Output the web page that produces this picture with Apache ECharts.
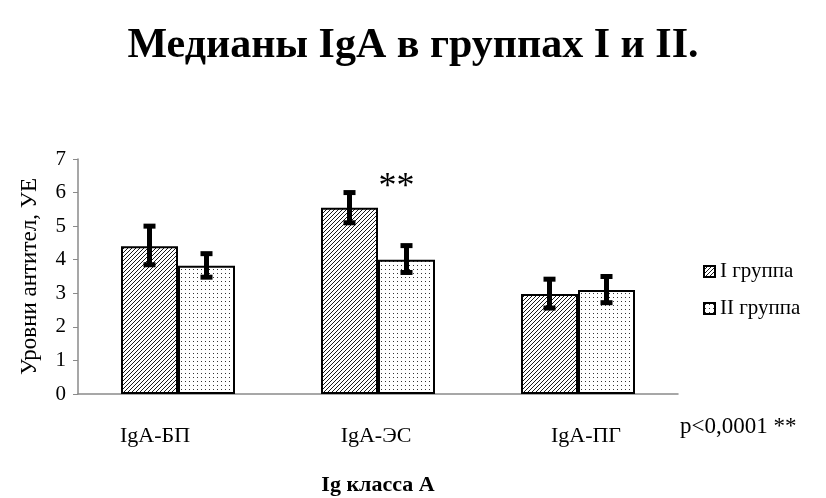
<!DOCTYPE html>
<html>
<head>
<meta charset="utf-8">
<script src="https://cdn.jsdelivr.net/npm/echarts@6/dist/echarts.min.js"></script>
<style>
  html, body { margin: 0; padding: 0; background: #fff; }
  #chart { width: 826px; height: 498px; }
</style>
</head>
<body>
<div id="chart"></div>
<script>
// data
const categories = ['IgA-БП', 'IgA-ЭС', 'IgA-ПГ'];
const seriesNames = ['I группа', 'II группа'];
const group1 = [4.4, 5.55, 2.98];
const group2 = [3.82, 4.0, 3.1];
const group1Low = [3.85, 5.1, 2.56];
const group1High = [5.0, 6.0, 3.42];
const group2Low = [3.48, 3.62, 2.72];
const group2High = [4.18, 4.42, 3.5];
const yTicks = [0, 1, 2, 3, 4, 5, 6, 7];

const FONT = '"Liberation Serif", "Times New Roman", serif';

// fill patterns
function hatchPattern() {
  const c = document.createElement('canvas');
  c.width = 4; c.height = 4;
  const ctx = c.getContext('2d');
  ctx.fillStyle = '#fff';
  ctx.fillRect(0, 0, 4, 4);
  ctx.strokeStyle = '#000';
  ctx.lineWidth = 0.9;
  ctx.beginPath();
  ctx.moveTo(-1, 5); ctx.lineTo(5, -1);
  ctx.moveTo(-1, 1); ctx.lineTo(1, -1);
  ctx.moveTo(3, 5); ctx.lineTo(5, 3);
  ctx.stroke();
  return c;
}
function dotPattern() {
  const c = document.createElement('canvas');
  c.width = 4; c.height = 4;
  const ctx = c.getContext('2d');
  ctx.fillStyle = '#fff';
  ctx.fillRect(0, 0, 4, 4);
  ctx.fillStyle = '#333';
  ctx.fillRect(1, 1, 1, 1);
  return c;
}

const errData = [];
for (let i = 0; i < categories.length; i++) {
  errData.push([i, group1Low[i], group1High[i], 0]);
  errData.push([i, group2Low[i], group2High[i], 1]);
}

const chart = echarts.init(document.getElementById('chart'));

const option = {
  backgroundColor: '#fff',
  animation: false,
  textStyle: { fontFamily: FONT, color: '#000' },
  title: {
    text: 'Медианы IgA в группах I и II.',
    left: 'center',
    top: 20,
    textStyle: { fontFamily: FONT, fontSize: 42, fontWeight: 'bold', color: '#000' }
  },
  legend: {
    orient: 'vertical',
    left: 698,
    top: 256,
    itemWidth: 11,
    itemHeight: 11,
    itemGap: 16,
    icon: 'rect',
    data: seriesNames,
    textStyle: { fontFamily: FONT, fontSize: 21, color: '#000', padding: [2, 0, 0, 0] }
  },
  grid: { left: 78, right: 148, top: 159, bottom: 104 },
  xAxis: {
    type: 'category',
    data: categories,
    name: 'Ig класса А',
    nameLocation: 'middle',
    nameGap: 80,
    nameTextStyle: { fontFamily: FONT, fontSize: 22, fontWeight: 'bold', color: '#000' },
    axisLine: { lineStyle: { color: '#8a8a8a', width: 1.5 } },
    axisTick: { show: false },
    axisLabel: {
      fontFamily: FONT,
      fontSize: 22,
      color: '#000',
      margin: 31,
      formatter: function (v, i) {
        return '{p' + i + '|' + v + '}';
      },
      rich: {
        p0: { fontFamily: FONT, fontSize: 22, padding: [0, 46, 0, 0] },
        p1: { fontFamily: FONT, fontSize: 22, padding: [0, 4, 0, 0] },
        p2: { fontFamily: FONT, fontSize: 22, padding: [0, 0, 0, 16] }
      }
    }
  },
  yAxis: {
    type: 'value',
    min: yTicks[0],
    max: yTicks[yTicks.length - 1],
    interval: 1,
    name: 'Уровни антител, УЕ',
    nameLocation: 'middle',
    nameGap: 37,
    nameTextStyle: { fontFamily: FONT, fontSize: 23, color: '#000' },
    splitLine: { show: false },
    axisLine: { show: true, lineStyle: { color: '#8a8a8a', width: 1.5 } },
    axisTick: { show: true, length: 5, lineStyle: { color: '#8a8a8a' } },
    axisLabel: { fontFamily: FONT, fontSize: 21, color: '#000', margin: 12 }
  },
  series: [
    {
      name: seriesNames[0],
      type: 'bar',
      data: group1,
      barGap: '0%',
      barCategoryGap: '43%',
      itemStyle: {
        color: { image: hatchPattern(), repeat: 'repeat' },
        borderColor: '#000',
        borderWidth: 2
      }
    },
    {
      name: seriesNames[1],
      type: 'bar',
      data: group2,
      barGap: '0%',
      barCategoryGap: '43%',
      itemStyle: {
        color: { image: dotPattern(), repeat: 'repeat' },
        borderColor: '#000',
        borderWidth: 2
      },
      markPoint: {
        symbol: 'circle',
        symbolSize: 0,
        label: {
          show: true,
          formatter: '**',
          fontFamily: FONT,
          fontSize: 36,
          color: '#000',
          offset: [-10, 5]
        },
        data: [{ coord: [categories[1], 6.3] }]
      }
    },
    {
      type: 'custom',
      data: errData,
      encode: { x: 0, y: [1, 2] },
      z: 10,
      renderItem: function (params, api) {
        const catW = api.size([1, 0])[0];
        const bw = catW * 0.285;
        const off = (api.value(3) === 0 ? -0.5 : 0.5) * bw;
        const hi = api.coord([api.value(0), api.value(2)]);
        const lo = api.coord([api.value(0), api.value(1)]);
        const x = hi[0] + off;
        const cw = 6;
        const st = { stroke: '#000', lineWidth: 5 };
        return {
          type: 'group',
          children: [
            { type: 'line', shape: { x1: x, y1: hi[1], x2: x, y2: lo[1] }, style: st },
            { type: 'line', shape: { x1: x - cw, y1: hi[1], x2: x + cw, y2: hi[1] }, style: st },
            { type: 'line', shape: { x1: x - cw, y1: lo[1], x2: x + cw, y2: lo[1] }, style: st }
          ]
        };
      }
    }
  ],
  graphic: [
    {
      type: 'text',
      left: 680,
      top: 415,
      style: { text: 'p<0,0001 **', fontFamily: FONT, fontSize: 23, fill: '#000' }
    }
  ]
};

chart.setOption(option);
</script>
</body>
</html>
